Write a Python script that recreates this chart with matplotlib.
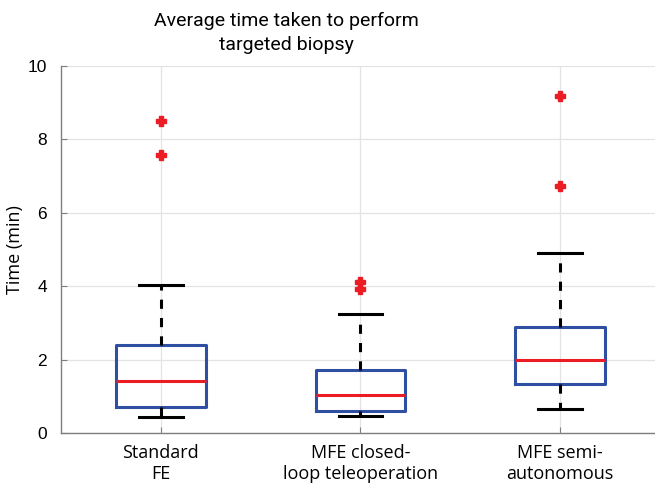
import matplotlib

matplotlib.use("Agg")
import matplotlib.pyplot as plt

# values (minutes)
groups = ["Standard\nFE", "MFE closed-\nloop teleoperation", "MFE semi-\nautonomous"]
whisker_low = [0.45, 0.47, 0.67]
q1 = [0.72, 0.62, 1.33]
median = [1.43, 1.03, 1.99]
q3 = [2.40, 1.73, 2.89]
whisker_high = [4.03, 3.25, 4.90]
outliers = [[8.49, 7.57], [4.11, 3.93], [9.17, 6.73]]

BLUE = "#2F4FA2"
RED = "#EC1C24"
GRAY = "#7F7F7F"

stats = []
for i, name in enumerate(groups):
    stats.append(
        {
            "label": name,
            "whislo": whisker_low[i],
            "q1": q1[i],
            "med": median[i],
            "q3": q3[i],
            "whishi": whisker_high[i],
            "fliers": outliers[i],
        }
    )

fig = plt.figure(figsize=(6.55, 4.87), dpi=100)
ax = fig.add_axes([61 / 655, 53.7 / 487, 599 / 655, 367.6 / 487])

ax.bxp(
    stats,
    positions=[1, 2, 3],
    widths=0.45,
    showfliers=True,
    boxprops=dict(color=BLUE, linewidth=2.2),
    medianprops=dict(color=RED, linewidth=2.2),
    whiskerprops=dict(color="black", linewidth=2.2, linestyle=(0, (3, 3))),
    capprops=dict(color="black", linewidth=2.2),
    capwidths=0.22,
    flierprops=dict(marker="P", markersize=6.5, markerfacecolor=RED, markeredgecolor=RED, linestyle="none"),
)

ax.set_xlim(0.5, 3.5)
ax.set_ylim(0, 10)
ax.set_yticks([0, 2, 4, 6, 8, 10])
ax.set_xticks([1, 2, 3])
ax.set_xticklabels(groups, fontsize=13, family="Open Sans", linespacing=1.15)
ax.tick_params(axis="y", labelsize=12.5, direction="in", color=GRAY, length=4, pad=10)
ax.tick_params(axis="x", direction="in", color=GRAY, length=4, pad=8)
for lbl in ax.get_yticklabels():
    lbl.set_family("Liberation Sans")

ax.grid(True, color="#E3E3E3", linewidth=0.9)
ax.set_axisbelow(True)
for side in ("top", "right"):
    ax.spines[side].set_visible(False)
for side in ("left", "bottom"):
    ax.spines[side].set_color(GRAY)
    ax.spines[side].set_linewidth(1.0)

ax.set_ylabel("Time (min)", fontsize=13, family="Open Sans", labelpad=3)
fig.text(286 / 655, 1 - 12 / 487, "Average time taken to perform\ntargeted biopsy",
         fontsize=14, family="Roboto", ha="center", va="top", linespacing=1.4)

fig.savefig("out.png", dpi=100)
